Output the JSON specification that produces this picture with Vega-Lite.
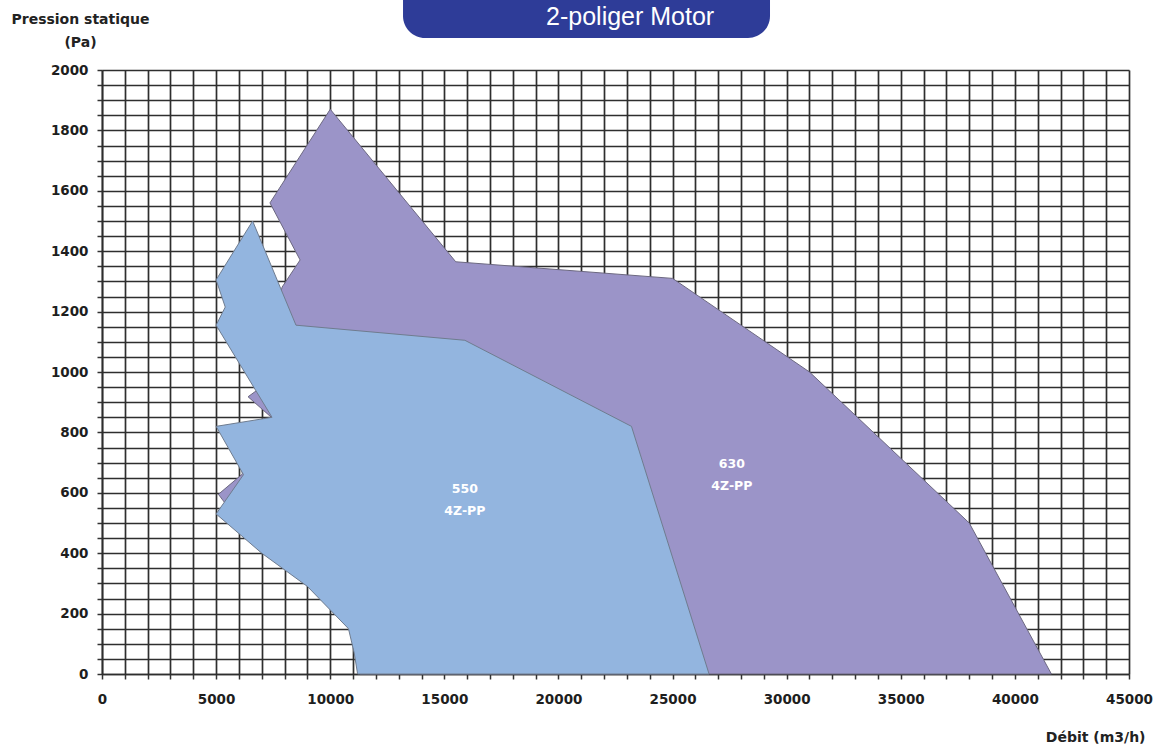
{
  "$schema": "https://vega.github.io/schema/vega-lite/v6.json",
  "width": 1027,
  "height": 604,
  "autosize": {"type": "none"},
  "padding": {"left": 102, "top": 70, "right": 30, "bottom": 70},
  "background": "white",
  "config": {"view": {"stroke": null}, "font": "DejaVu Sans"},
  "datasets": {
    "curves": [
      {"series": "630", "order": 1, "x": 10000, "y": 1870},
      {"series": "630", "order": 2, "x": 15500, "y": 1365},
      {"series": "630", "order": 3, "x": 25000, "y": 1310},
      {"series": "630", "order": 4, "x": 31000, "y": 1000},
      {"series": "630", "order": 5, "x": 38000, "y": 500},
      {"series": "630", "order": 6, "x": 41600, "y": 0},
      {"series": "630", "order": 7, "x": 11300, "y": 0},
      {"series": "630", "order": 8, "x": 11150, "y": 70},
      {"series": "630", "order": 9, "x": 10900, "y": 150},
      {"series": "630", "order": 10, "x": 9100, "y": 290},
      {"series": "630", "order": 11, "x": 5400, "y": 565},
      {"series": "630", "order": 12, "x": 5100, "y": 595},
      {"series": "630", "order": 13, "x": 6150, "y": 662},
      {"series": "630", "order": 14, "x": 6000, "y": 760},
      {"series": "630", "order": 15, "x": 7450, "y": 848},
      {"series": "630", "order": 16, "x": 6400, "y": 918},
      {"series": "630", "order": 17, "x": 6800, "y": 940},
      {"series": "630", "order": 18, "x": 7890, "y": 1281},
      {"series": "630", "order": 19, "x": 8680, "y": 1371},
      {"series": "630", "order": 20, "x": 7360, "y": 1560},
      {"series": "550", "order": 1, "x": 6600, "y": 1500},
      {"series": "550", "order": 2, "x": 8500, "y": 1155},
      {"series": "550", "order": 3, "x": 15900, "y": 1105},
      {"series": "550", "order": 4, "x": 23200, "y": 820},
      {"series": "550", "order": 5, "x": 26600, "y": 0},
      {"series": "550", "order": 6, "x": 11200, "y": 0},
      {"series": "550", "order": 7, "x": 11050, "y": 70},
      {"series": "550", "order": 8, "x": 10800, "y": 150},
      {"series": "550", "order": 9, "x": 9000, "y": 290},
      {"series": "550", "order": 10, "x": 7000, "y": 400},
      {"series": "550", "order": 11, "x": 5000, "y": 530},
      {"series": "550", "order": 12, "x": 6200, "y": 660},
      {"series": "550", "order": 13, "x": 5000, "y": 820},
      {"series": "550", "order": 14, "x": 7450, "y": 850},
      {"series": "550", "order": 15, "x": 5000, "y": 1155},
      {"series": "550", "order": 16, "x": 5400, "y": 1215},
      {"series": "550", "order": 17, "x": 5000, "y": 1305}
    ],
    "labels": [
      {"text": "550\n4Z-PP", "x": 15900, "y": 612},
      {"text": "630\n4Z-PP", "x": 27600, "y": 694}
    ],
    "banner": [
      {"x": 13190, "x2": 29270, "y": 2106, "y2": 2340}
    ],
    "bannerText": [
      {"text": "2-poliger Motor", "x": 23140, "y": 2175}
    ]
  },
  "encoding": {
    "x": {
      "field": "x", "type": "quantitative",
      "scale": {"domain": [0, 45000], "nice": false, "zero": false},
      "axis": {
        "title": "Débit (m3/h)",
        "titleAnchor": null,
        "titleAlign": "right",
        "titleX": 1043,
        "titleY": 67,
        "titleBaseline": "alphabetic",
        "titleFont": "DejaVu Sans", "titleFontSize": 14, "titleFontWeight": "bold", "titleColor": "#222",
        "values": [0,1000,2000,3000,4000,5000,6000,7000,8000,9000,10000,11000,12000,13000,14000,15000,16000,17000,18000,19000,20000,21000,22000,23000,24000,25000,26000,27000,28000,29000,30000,31000,32000,33000,34000,35000,36000,37000,38000,39000,40000,41000,42000,43000,44000,45000],
        "labelExpr": "datum.value % 5000 === 0 ? '' + datum.value : ''",
        "labelFont": "DejaVu Sans", "labelFontSize": 13.5, "labelFontWeight": "bold", "labelColor": "#1e1e1e",
        "labelPadding": 13, "labelOverlap": false, "labelFlush": false, "labelBound": false,
        "tickSize": 5, "tickColor": "#333", "tickWidth": 1.5,
        "grid": true, "gridColor": "#2e2e2e", "gridWidth": 1.7, "gridOpacity": 1,
        "domain": true, "domainColor": "#2e2e2e", "domainWidth": 1.7
      }
    },
    "y": {
      "field": "y", "type": "quantitative",
      "scale": {"domain": [0, 2000], "nice": false, "zero": false},
      "axis": {
        "title": ["Pression statique", "(Pa)"],
        "titleAngle": 0, "titleAlign": "center", "titleBaseline": "top",
        "titleX": -22, "titleY": -58, "titleLineHeight": 23,
        "titleFont": "DejaVu Sans", "titleFontSize": 14, "titleFontWeight": "bold", "titleColor": "#222",
        "values": [0,50,100,150,200,250,300,350,400,450,500,550,600,650,700,750,800,850,900,950,1000,1050,1100,1150,1200,1250,1300,1350,1400,1450,1500,1550,1600,1650,1700,1750,1800,1850,1900,1950,2000],
        "labelExpr": "datum.value % 200 === 0 ? '' + datum.value : ''",
        "labelFont": "DejaVu Sans", "labelFontSize": 13.5, "labelFontWeight": "bold", "labelColor": "#1e1e1e",
        "labelPadding": 9, "labelOverlap": false, "labelFlush": false, "labelBound": false,
        "tickSize": 5, "tickColor": "#333", "tickWidth": 1.5,
        "grid": true, "gridColor": "#2e2e2e", "gridWidth": 1.7, "gridOpacity": 1,
        "domain": true, "domainColor": "#2e2e2e", "domainWidth": 1.7
      }
    }
  },
  "layer": [
    {
      "data": {"name": "curves"},
      "transform": [{"filter": "datum.series === '630'"}],
      "mark": {"type": "line", "interpolate": "linear-closed", "fill": "#9b94c8", "stroke": "#6c6880", "strokeWidth": 1},
      "encoding": {
        "order": {"field": "order", "type": "quantitative"}
      }
    },
    {
      "data": {"name": "curves"},
      "transform": [{"filter": "datum.series === '550'"}],
      "mark": {"type": "line", "interpolate": "linear-closed", "fill": "#93b5df", "stroke": "#6f7c8f", "strokeWidth": 1},
      "encoding": {
        "order": {"field": "order", "type": "quantitative"}
      }
    },
    {
      "data": {"name": "labels"},
      "mark": {"type": "text", "color": "white", "font": "DejaVu Sans", "fontSize": 12.5, "fontWeight": "bold", "lineBreak": "\n", "lineHeight": 22, "align": "center", "baseline": "middle"},
      "encoding": {
        "text": {"field": "text"}
      }
    },
    {
      "data": {"name": "banner"},
      "mark": {"type": "rect", "color": "#2e3c98", "cornerRadius": 22, "clip": false},
      "encoding": {
        "x2": {"field": "x2"},
        "y2": {"field": "y2"}
      }
    },
    {
      "data": {"name": "bannerText"},
      "mark": {"type": "text", "color": "white", "font": "Liberation Sans", "fontSize": 25, "align": "center", "baseline": "middle", "clip": false},
      "encoding": {
        "text": {"field": "text"}
      }
    }
  ]
}
